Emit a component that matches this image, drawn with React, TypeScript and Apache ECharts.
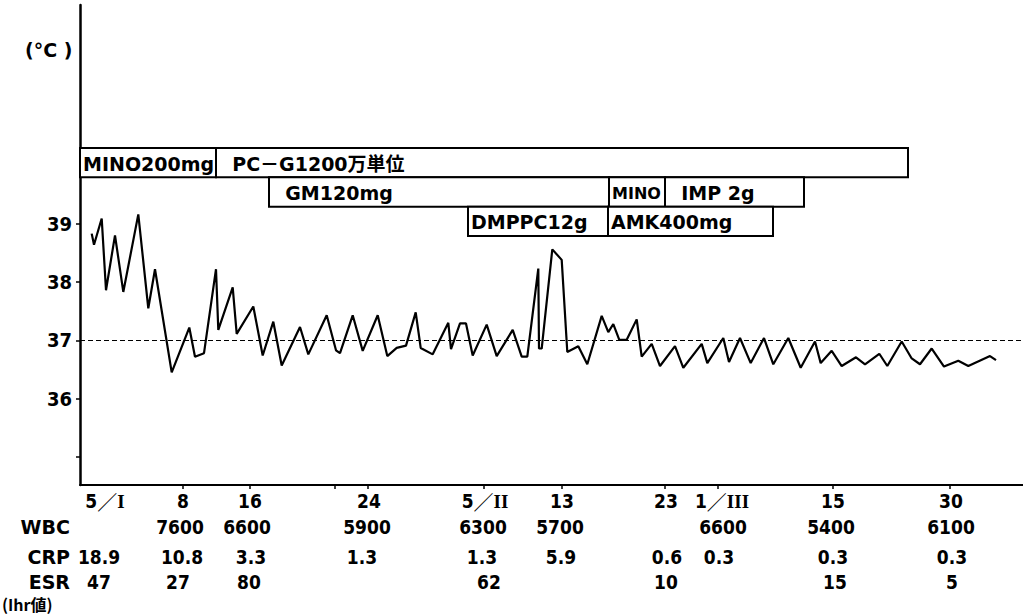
import React, { useEffect, useRef } from 'react';
import * as echarts from 'echarts';

// Body temperature readings: position along the (hand-drawn, non-linear) time axis, and °C
const readingPos = [
  1.17, 1.4, 2.17, 2.6, 3.5, 4.33, 5.83, 6.83, 7.5, 9.17,
  10.93, 11.5, 12.4, 13.6, 13.83, 15.27, 15.67, 17.33, 18.27, 19.33,
  20.17, 22.0, 22.83, 24.67, 25.6, 26.0, 27.27, 28.27, 29.77, 30.73,
  31.67, 32.6, 33.57, 34.07, 35.27, 36.83, 37.1, 38.0, 38.6, 39.27,
  40.67, 41.67, 43.27, 44.17, 44.73, 45.83, 45.9, 46.17, 47.23, 48.17,
  48.73, 49.83, 50.73, 52.17, 52.83, 53.33, 53.93, 54.67, 55.67, 56.17,
  57.17, 58.0, 59.5, 60.33, 62.17, 62.73, 64.33, 64.9, 66.0, 67.07,
  68.4, 69.33, 70.83, 72.07, 73.5, 74.07, 75.17, 76.17, 77.6, 78.5,
  79.93, 80.73, 82.17, 83.17, 84.0, 85.17, 86.4, 87.83, 88.83, 91.0,
  91.6,
];
const readingTemp = [
  38.83, 38.64, 39.09, 37.86, 38.8, 37.83, 39.16, 37.55, 38.22, 36.45,
  37.22, 36.72, 36.78, 38.22, 37.18, 37.91, 37.11, 37.58, 36.74, 37.32,
  36.57, 37.23, 36.76, 37.43, 36.83, 36.78, 37.43, 36.82, 37.43, 36.73,
  36.87, 36.91, 37.48, 36.87, 36.76, 37.3, 36.85, 37.29, 37.29, 36.74,
  37.27, 36.73, 37.18, 36.72, 36.72, 38.23, 36.86, 36.86, 38.56, 38.38,
  36.8, 36.9, 36.59, 37.42, 37.14, 37.28, 37.01, 37.01, 37.36, 36.72,
  36.94, 36.56, 36.9, 36.53, 36.94, 36.61, 37.04, 36.63, 37.04, 36.61,
  37.04, 36.59, 37.04, 36.53, 36.98, 36.61, 36.82, 36.56, 36.71, 36.59,
  36.77, 36.56, 36.98, 36.69, 36.59, 36.86, 36.55, 36.65, 36.56, 36.73,
  36.66,
];

const axisMax = 94.3;
const tempMin = 34.52;
const tempMax = 42.75;
const tempTicks = [35, 36, 37, 38, 39];
const tempLabels = [36, 37, 38, 39];
const normalTemp = 37;

const dateTickPos = [10.3, 17.0, 25.5, 28.8, 40.4, 48.2, 58.5, 63.8, 75.3, 87.0];
const dateLabelPos = [2.5, 10.3, 17.0, 28.9, 40.5, 48.2, 58.6, 64.2, 75.3, 87.1];
const dateLabels = ['5/I', '8', '16', '24', '5/II', '13', '23', '1/III', '15', '30'];

const wbcPos = [10.0, 16.7, 28.7, 40.3, 48.0, 64.3, 75.1, 87.1];
const wbcValues = ['7600', '6600', '5900', '6300', '5700', '6600', '5400', '6100'];
const crpPos = [1.9, 10.2, 17.1, 28.2, 40.2, 48.1, 58.7, 63.9, 75.3, 87.2];
const crpValues = ['18.9', '10.8', '3.3', '1.3', '1.3', '5.9', '0.6', '0.3', '0.3', '0.3'];
const esrPos = [1.9, 9.8, 16.9, 40.9, 58.6, 75.5, 87.2];
const esrValues = ['47', '27', '80', '62', '10', '15', '5'];

// Drug administration bars
const drugRows = ['row1', 'row2', 'row3'];
const drugNames = [
  'MINO200mg',
  '\u00a0\u00a0PC－G1200万単位',
  '\u00a0\u00a0GM120mg',
  'MINO',
  '\u00a0\u00a0IMP 2g',
  'DMPPC12g',
  'AMK400mg',
];
const drugStart = [0, 13.6, 18.9, 52.9, 58.5, 38.8, 52.8];
const drugEnd = [13.6, 82.8, 52.9, 58.5, 72.4, 52.8, 69.3];
const drugRow = [0, 0, 1, 1, 1, 2, 2];

const COND = "'DejaVu Sans Condensed', 'Liberation Sans Narrow', 'DejaVu Sans', sans-serif";
const WIDE = "'DejaVu Sans', 'Noto Sans CJK JP', sans-serif";

const lookup = (pos: number[], texts: string[]) => (v: number) => {
  let best = 0;
  for (let i = 1; i < pos.length; i++) {
    if (Math.abs(pos[i] - v) < Math.abs(pos[best] - v)) best = i;
  }
  return texts[best];
};

const dateFormatter = (v: number) => {
  const t = lookup(dateLabelPos, dateLabels)(v);
  if (t.includes('/')) {
    const [d, m] = t.split('/');
    return `{n|${d}}{s|／}{r|${m}}`;
  }
  return `{n|${t}}`;
};

const rowAxis = (offset: number, pos: number[], texts: string[]) => ({
  type: 'value',
  gridIndex: 0,
  position: 'bottom',
  offset,
  min: 0,
  max: axisMax,
  axisLine: { show: false },
  axisTick: { show: false },
  splitLine: { show: false },
  axisLabel: {
    customValues: pos,
    formatter: lookup(pos, texts),
    margin: 6,
    color: '#000',
    fontFamily: COND,
    fontWeight: 'bold',
    fontSize: 19,
    lineHeight: 20,
  },
});

export default function App() {
  const ref = useRef<HTMLDivElement>(null);
  useEffect(() => {
    if (!ref.current) return;
    const chart = echarts.init(ref.current, undefined, { renderer: 'svg' });
    const option: any = {
      animation: false,
      backgroundColor: '#fff',
      grid: [
        { left: 80, right: 0, top: 5, bottom: 131 },
        { left: 80, right: 0, top: 148, height: 88 },
      ],
      xAxis: [
        {
          type: 'value',
          gridIndex: 0,
          min: 0,
          max: axisMax,
          axisLine: { show: true, lineStyle: { color: '#000', width: 2 } },
          axisTick: { show: true, customValues: dateTickPos, length: 4, inside: false, lineStyle: { color: '#000', width: 1.5 } },
          splitLine: { show: false },
          axisLabel: {
            customValues: dateLabelPos,
            formatter: dateFormatter,
            margin: 6,
            rich: {
              n: { fontFamily: COND, fontWeight: 'bold', fontSize: 19, color: '#000', lineHeight: 20 },
              s: { fontFamily: "'Noto Sans CJK JP', sans-serif", fontSize: 20, color: '#000', lineHeight: 20 },
              r: { fontFamily: "'Liberation Serif', serif", fontWeight: 'bold', fontSize: 19, color: '#000', lineHeight: 20 },
            },
          },
        },
        rowAxis(26, wbcPos, wbcValues),
        rowAxis(56, crpPos, crpValues),
        rowAxis(81, esrPos, esrValues),
        { type: 'value', gridIndex: 1, min: 0, max: axisMax, show: false },
      ],
      yAxis: [
        {
          type: 'value',
          gridIndex: 0,
          min: tempMin,
          max: tempMax,
          axisLine: { show: true, lineStyle: { color: '#000', width: 2.5 } },
          axisTick: { show: true, customValues: tempTicks, length: 4, lineStyle: { color: '#000', width: 1.5 } },
          splitLine: { show: false },
          axisLabel: {
            customValues: tempLabels,
            margin: 8,
            color: '#000',
            fontFamily: COND,
            fontWeight: 'bold',
            fontSize: 20,
          },
        },
        { type: 'category', gridIndex: 1, data: drugRows, inverse: true, show: false },
      ],
      series: [
        {
          type: 'line',
          xAxisIndex: 0,
          yAxisIndex: 0,
          data: readingPos.map((p, i) => [p, readingTemp[i]]),
          showSymbol: false,
          symbol: 'none',
          lineStyle: { color: '#000', width: 2.2 },
          markLine: {
            silent: true,
            symbol: 'none',
            label: { show: false },
            lineStyle: { color: '#000', width: 1, type: [5, 3] },
            data: [{ yAxis: normalTemp }],
          },
        },
        {
          type: 'custom',
          xAxisIndex: 4,
          yAxisIndex: 1,
          encode: { x: [0, 1], y: 2 },
          data: drugStart.map((s, i) => [s, drugEnd[i], drugRow[i]]),
          renderItem: (params: any, api: any) => {
            const x0 = api.value(0);
            const x1 = api.value(1);
            const row = api.value(2);
            const p0 = api.coord([x0, row]);
            const p1 = api.coord([x1, row]);
            const h = api.size([0, 1])[1];
            const w = p1[0] - p0[0];
            const name = drugNames[params.dataIndex];
            return {
              type: 'group',
              children: [
                {
                  type: 'rect',
                  shape: { x: p0[0], y: p0[1] - h / 2, width: w, height: h },
                  style: { fill: '#fff', stroke: '#000', lineWidth: 2 },
                },
                {
                  type: 'text',
                  style: {
                    text: name,
                    x: p0[0] + 3,
                    y: p0[1] + 1,
                    align: 'left',
                    verticalAlign: 'middle',
                    fill: '#000',
                    font: `bold ${w < 60 ? 16 : 19}px ${WIDE}`,
                  },
                },
              ],
            };
          },
        },
      ],
      graphic: [
        { type: 'text', left: 25, top: 40, style: { text: '(°C )', fill: '#000', font: `bold 19px ${WIDE}` } },
        { type: 'text', right: 1023 - 70, top: 517, style: { text: 'WBC', fill: '#000', font: `bold 19px ${WIDE}` } },
        { type: 'text', right: 1023 - 70, top: 547, style: { text: 'CRP', fill: '#000', font: `bold 19px ${WIDE}` } },
        { type: 'text', right: 1023 - 70, top: 572, style: { text: 'ESR', fill: '#000', font: `bold 19px ${WIDE}` } },
        {
          type: 'text',
          left: 2,
          top: 595,
          style: { text: '(Ihr値)', fill: '#000', lineHeight: 18, font: `bold 16px 'Noto Sans CJK JP', sans-serif` },
        },
      ],
    };
    chart.setOption(option);
    return () => chart.dispose();
  }, []);
  return (
    <div
      ref={ref}
      style={{ position: 'fixed', left: 0, top: 0, width: 1023, height: 616, background: '#fff' }}
    />
  );
}
